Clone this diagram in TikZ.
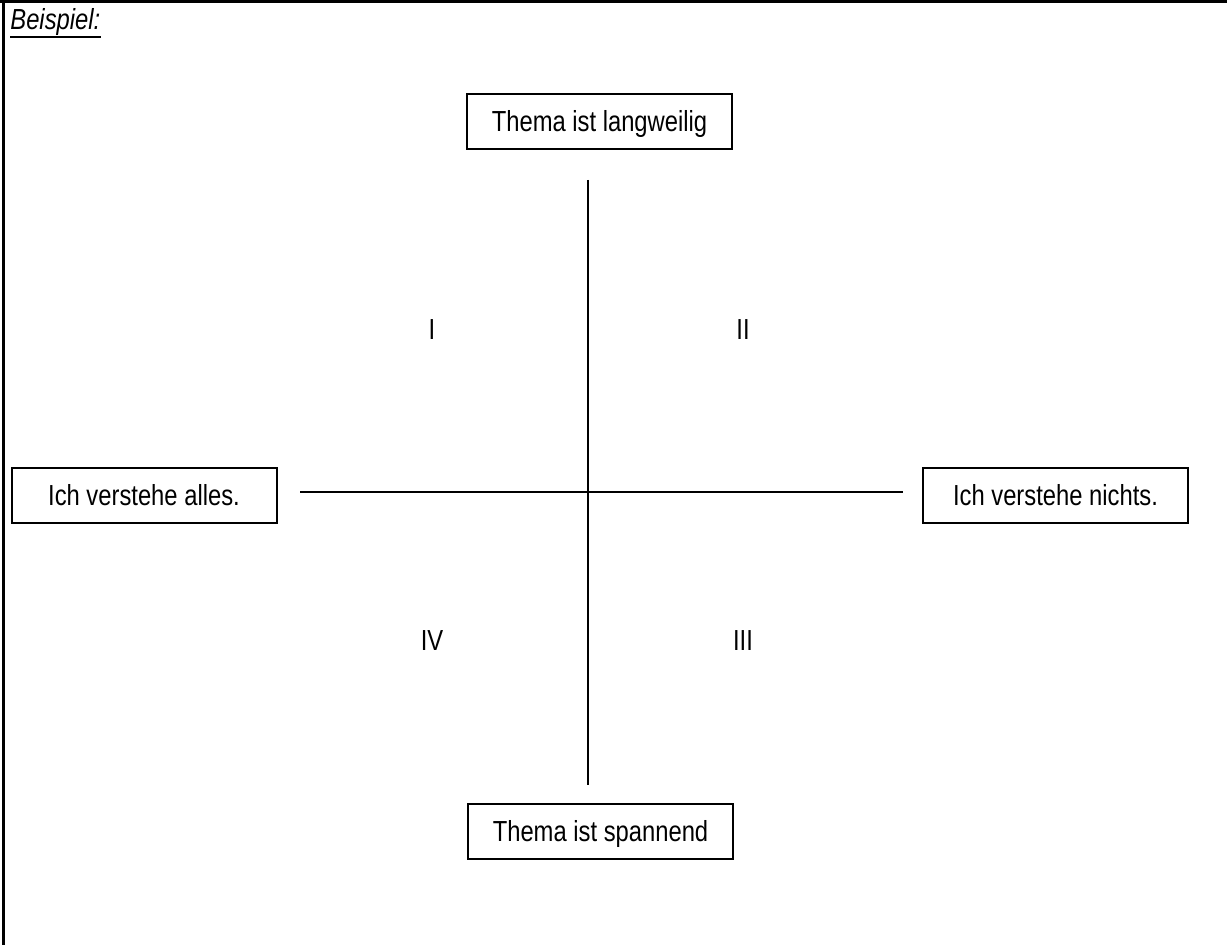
\documentclass[tikz,border=0pt]{standalone}
\usepackage{fontspec}
\setmainfont{Liberation Sans}[FakeStretch=0.82]
\usepackage{tikz}

\tikzset{
    feld/.style={draw, line width=1pt, minimum width=132.5pt, minimum height=27.5pt, inner sep=0pt, text height=10.4pt, text depth=0pt},
    achse/.style={line width=1pt},
    quadrant/.style={inner sep=0pt, text height=10.4pt, text depth=0pt}
}

\begin{document}
\begin{tikzpicture}[x=0.5pt, y=-0.5pt, every node/.style={font=\fontsize{14.5}{17}\selectfont}]
    \useasboundingbox (0,0) rectangle (1227,945);

    % Rahmen
    \draw[line width=1.5pt] (0,1.5) -- (1227,1.5);
    \draw[line width=1.5pt] (3,0) -- (3,945);
    \node[anchor=base west, inner sep=0pt] (beispiel) at (10,30) {\textit{Beispiel:}};
    \draw[line width=1.2pt] ([yshift=-3.5pt]beispiel.base west) -- ([yshift=-3.5pt]beispiel.base east);

    % Pole
    \node[feld] (oben) at (599.5,121.5) {Thema ist langweilig};
    \node[feld] (unten) at (600.5,831.5) {Thema ist spannend};
    \node[feld] (links) at (144,495.5) {Ich verstehe alles.};
    \node[feld] (rechts) at (1055.5,495.5) {Ich verstehe nichts.};

    % Achsen
    \coordinate (yo) at (588,180);
    \coordinate (yu) at (588,785);
    \coordinate (xl) at (300,492);
    \coordinate (xr) at (903,492);
    \draw[achse] (yo) -- (yu);
    \draw[achse] (xl) -- (xr);

    % Quadranten
    \node[quadrant] (q1) at (432,329) {I};
    \node[quadrant] (q2) at (743,329) {II};
    \node[quadrant] (q3) at (743,640) {III};
    \node[quadrant] (q4) at (432,640) {IV};
\end{tikzpicture}
\end{document}
